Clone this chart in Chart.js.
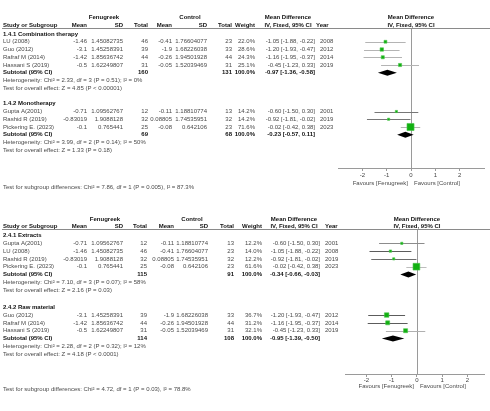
<!DOCTYPE html>
<html lang="en">
<head>
<meta charset="UTF-8">
<title>Forest plot - Fenugreek vs Control</title>
<script src="https://cdn.jsdelivr.net/npm/chart.js@4.4.1/dist/chart.umd.min.js"></script>
<style>
  html, body { margin: 0; padding: 0; background: #fff; }
  #wrap { position: relative; width: 490px; height: 411px; overflow: hidden; background: #fff; }
  #wrap canvas { position: absolute; left: 0; top: 0; }
</style>
</head>
<body>
<div id="wrap">
  <canvas id="forest-a" width="490" height="411"></canvas>
  <canvas id="forest-b" width="490" height="411"></canvas>
</div>
<script>
// ---------- analysis 1.4 (top) ----------
const aGroupName = ['1.4.1 Combination therapy', '1.4.2 Monotherapy'];
const aStudy = ['LU (2008)', 'Guo (2012)', 'Rafraf M (2014)', 'Hassani S (2019)', 'Gupta A(2001)', 'Rashid R (2019)', 'Pickering E. (2023)'];
const aGroupOf = [0, 0, 0, 0, 1, 1, 1];
const aFenMean = [-1.46, -3.1, -1.42, -0.5, -0.71, -0.83019, -0.1];
const aFenSD = [1.45082735, 1.45258391, 1.85636742, 1.62249807, 1.09562767, 1.9088128, 0.765441];
const aFenN = [46, 39, 44, 31, 12, 32, 25];
const aCtlMean = [-0.41, -1.9, -0.26, -0.05, -0.11, 0.08805, -0.08];
const aCtlSD = [1.76604077, 1.68226038, 1.94501928, 1.52039469, 1.18810774, 1.74535951, 0.642106];
const aCtlN = [23, 33, 44, 31, 13, 32, 23];
const aWeight = [22.0, 28.6, 24.3, 25.1, 14.2, 14.2, 71.6];
const aMD = [-1.05, -1.20, -1.16, -0.45, -0.60, -0.92, -0.02];
const aLo = [-1.88, -1.93, -1.95, -1.23, -1.50, -1.81, -0.42];
const aHi = [-0.22, -0.47, -0.37, 0.33, 0.30, -0.02, 0.38];
const aYear = [2008, 2012, 2014, 2019, 2001, 2019, 2023];
const aSubFenN = [160, 69];
const aSubCtlN = [131, 68];
const aSubMD = [-0.97, -0.23];
const aSubLo = [-1.36, -0.57];
const aSubHi = [-0.58, 0.11];
const aHet = ['Chi\u00b2 = 2.33, df = 3 (P = 0.51); I\u00b2 = 0%', 'Chi\u00b2 = 3.99, df = 2 (P = 0.14); I\u00b2 = 50%'];
const aOverall = ['Z = 4.85 (P < 0.00001)', 'Z = 1.33 (P = 0.18)'];
const aSubgroupTest = 'Chi\u00b2 = 7.86, df = 1 (P = 0.005), I\u00b2 = 87.3%';

// ---------- analysis 2.4 (bottom) ----------
const bGroupName = ['2.4.1 Extracts', '2.4.2 Raw material'];
const bStudy = ['Gupta A(2001)', 'LU (2008)', 'Rashid R (2019)', 'Pickering E. (2023)', 'Guo (2012)', 'Rafraf M (2014)', 'Hassani S (2019)'];
const bGroupOf = [0, 0, 0, 0, 1, 1, 1];
const bFenMean = [-0.71, -1.46, -0.83019, -0.1, -3.1, -1.42, -0.5];
const bFenSD = [1.09562767, 1.45082735, 1.9088128, 0.765441, 1.45258391, 1.85636742, 1.62249807];
const bFenN = [12, 46, 32, 25, 39, 44, 31];
const bCtlMean = [-0.11, -0.41, 0.08805, -0.08, -1.9, -0.26, -0.05];
const bCtlSD = [1.18810774, 1.76604077, 1.74535951, 0.642106, 1.68226038, 1.94501928, 1.52039469];
const bCtlN = [13, 23, 32, 23, 33, 44, 31];
const bWeight = [12.2, 14.0, 12.2, 61.6, 36.7, 31.2, 32.1];
const bMD = [-0.60, -1.05, -0.92, -0.02, -1.20, -1.16, -0.45];
const bLo = [-1.50, -1.88, -1.81, -0.42, -1.93, -1.95, -1.23];
const bHi = [0.30, -0.22, -0.02, 0.38, -0.47, -0.37, 0.33];
const bYear = [2001, 2008, 2019, 2023, 2012, 2014, 2019];
const bSubFenN = [115, 114];
const bSubCtlN = [91, 108];
const bSubMD = [-0.34, -0.95];
const bSubLo = [-0.66, -1.39];
const bSubHi = [-0.03, -0.50];
const bHet = ['Chi\u00b2 = 7.10, df = 3 (P = 0.07); I\u00b2 = 58%', 'Chi\u00b2 = 2.28, df = 2 (P = 0.32); I\u00b2 = 12%'];
const bOverall = ['Z = 2.16 (P = 0.03)', 'Z = 4.18 (P < 0.0001)'];
const bSubgroupTest = 'Chi\u00b2 = 4.72, df = 1 (P = 0.03), I\u00b2 = 78.8%';

// shared axis / header text
const xTicks = [-2, -1, 0, 1, 2];
const favourLeft = 'Favours [Fenugreek]';
const favourRight = 'Favours [Control]';

const FONT = '"Liberation Sans", Arial, sans-serif';
const AXIS_H = 20;

// layout per panel (pixels in the 490x411 page)
const layoutA = {
  h1: 17, h2: 25.7, rule: 29, row0: 34, rowH: 7.75, group2Row: 9.0,
  axis: 168, favours: 183, subgroupY: 187.3, tickPad: 1, sq: 1,
  xMin: -3, xMax: 3, plotLeft: 338, plotRight: 484,
  col: { name: 3, fenMean: 87, fenSD: 123, fenN: 148, ctlMean: 172, ctlSD: 207, ctlN: 232, weight: 255, md: 315, year: 320 },
  head: { fen: 104, ctl: 190, md: 288, yearHead: 316 },
  whisker: ['#b4b4b4', '#b4b4b4', '#b4b4b4', '#b4b4b4', '#777', '#777', '#b4b4b4']
};
const layoutB = {
  h1: 219, h2: 226.5, rule: 229.5, row0: 235.5, rowH: 7.8, group2Row: 9.2,
  axis: 374, favours: 386, subgroupY: 389.3, tickPad: 0, sq: 1.09,
  xMin: -2.85, xMax: 2.68, plotLeft: 345, plotRight: 490,
  col: { name: 3, fenMean: 87, fenSD: 123, fenN: 147, ctlMean: 174, ctlSD: 208, ctlN: 234, weight: 262, md: 320, year: 325 },
  head: { fen: 105, ctl: 192, md: 294, yearHead: 325 },
  whisker: ['#8c8c8c', '#5c5c5c', '#6c6c6c', '#bdbdbd', '#5c5c5c', '#5c5c5c', '#b0b0b0']
};

function makePanel(canvasId, d, L) {
  // row index of each study, subtotal, etc.
  const startRow = [0, L.group2Row];
  const cnt = [0, 0];
  const studyRow = d.group.map(g => startRow[g] + 1 + cnt[g]++);
  const subRow = [startRow[0] + 1 + cnt[0], startRow[1] + 1 + cnt[1]];

  const side = w => (1 + w * 0.085) * L.sq;

  const forest = {
    id: 'forest_' + canvasId,
    beforeDatasetsDraw(chart) {
      const ctx = chart.ctx, xs = chart.scales.x, ys = chart.scales.y, ca = chart.chartArea;
      ctx.save();
      // line of no effect
      const x0 = Math.round(xs.getPixelForValue(0)) + 0.5;
      ctx.strokeStyle = '#9a9a9a';
      ctx.lineWidth = 1;
      ctx.beginPath();
      ctx.moveTo(x0, ca.top);
      ctx.lineTo(x0, ca.bottom);
      ctx.stroke();
      // confidence intervals
      d.lo.forEach((lo, i) => {
        const y = Math.round(ys.getPixelForValue(studyRow[i])) + 0.5;
        ctx.strokeStyle = L.whisker[i];
        ctx.beginPath();
        ctx.moveTo(xs.getPixelForValue(lo), y);
        ctx.lineTo(xs.getPixelForValue(d.hi[i]), y);
        ctx.stroke();
      });
      // pooled diamonds
      ctx.fillStyle = '#000';
      d.subMD.forEach((m, g) => {
        const y = ys.getPixelForValue(subRow[g]);
        ctx.beginPath();
        ctx.moveTo(xs.getPixelForValue(d.subLo[g]), y);
        ctx.lineTo(xs.getPixelForValue(m), y - 3);
        ctx.lineTo(xs.getPixelForValue(d.subHi[g]), y);
        ctx.lineTo(xs.getPixelForValue(m), y + 3);
        ctx.closePath();
        ctx.fill();
      });
      ctx.restore();
    },
    afterDraw(chart) {
      const ctx = chart.ctx, xs = chart.scales.x, ys = chart.scales.y;
      const C = L.col, H = L.head;
      ctx.save();
      ctx.textBaseline = 'middle';
      const txt = (s, x, y, align, bold) => {
        ctx.font = (bold ? 'bold ' : '') + '6px ' + FONT;
        ctx.fillStyle = bold ? '#111' : '#4a4a4a';
        ctx.textAlign = align;
        ctx.fillText(s, x, y);
      };
      const x0 = xs.getPixelForValue(0);
      // headers
      txt('Fenugreek', H.fen, L.h1, 'center', true);
      txt('Control', H.ctl, L.h1, 'center', true);
      txt('Mean Difference', H.md, L.h1, 'center', true);
      txt('Mean Difference', x0, L.h1, 'center', true);
      txt('Study or Subgroup', C.name, L.h2, 'left', true);
      txt('Mean', C.fenMean, L.h2, 'right', true);
      txt('SD', C.fenSD, L.h2, 'right', true);
      txt('Total', C.fenN, L.h2, 'right', true);
      txt('Mean', C.ctlMean, L.h2, 'right', true);
      txt('SD', C.ctlSD, L.h2, 'right', true);
      txt('Total', C.ctlN, L.h2, 'right', true);
      txt('Weight', C.weight, L.h2, 'right', true);
      txt('IV, Fixed, 95% CI', H.md, L.h2, 'center', true);
      txt('Year', H.yearHead, L.h2, 'left', true);
      txt('IV, Fixed, 95% CI', x0, L.h2, 'center', true);
      ctx.strokeStyle = '#8a8a8a';
      ctx.lineWidth = 1;
      ctx.beginPath();
      ctx.moveTo(2, Math.round(L.rule) - 0.5);
      ctx.lineTo(490, Math.round(L.rule) - 0.5);
      ctx.stroke();

      const ci = (m, lo, hi) => m.toFixed(2) + ' [' + lo.toFixed(2) + ', ' + hi.toFixed(2) + ']';
      // studies
      d.study.forEach((s, i) => {
        const y = ys.getPixelForValue(studyRow[i]);
        txt(s, C.name, y, 'left', false);
        txt(String(d.fenMean[i]), C.fenMean, y, 'right', false);
        txt(String(d.fenSD[i]), C.fenSD, y, 'right', false);
        txt(String(d.fenN[i]), C.fenN, y, 'right', false);
        txt(String(d.ctlMean[i]), C.ctlMean, y, 'right', false);
        txt(String(d.ctlSD[i]), C.ctlSD, y, 'right', false);
        txt(String(d.ctlN[i]), C.ctlN, y, 'right', false);
        txt(d.weight[i].toFixed(1) + '%', C.weight, y, 'right', false);
        txt(ci(d.md[i], d.lo[i], d.hi[i]), C.md, y, 'right', false);
        txt(String(d.year[i]), C.year, y, 'left', false);
      });
      // groups
      d.groupName.forEach((g, k) => {
        txt(g, C.name, ys.getPixelForValue(startRow[k]), 'left', true);
        const y = ys.getPixelForValue(subRow[k]);
        txt('Subtotal (95% CI)', C.name, y, 'left', true);
        txt(String(d.subFenN[k]), C.fenN, y, 'right', true);
        txt(String(d.subCtlN[k]), C.ctlN, y, 'right', true);
        txt('100.0%', C.weight, y, 'right', true);
        txt(ci(d.subMD[k], d.subLo[k], d.subHi[k]), C.md, y, 'right', true);
        txt('Heterogeneity: ' + d.het[k], C.name, ys.getPixelForValue(subRow[k] + 1), 'left', false);
        txt('Test for overall effect: ' + d.overall[k], C.name, ys.getPixelForValue(subRow[k] + 2), 'left', false);
      });
      txt('Test for subgroup differences: ' + d.subgroupTest, C.name, L.subgroupY, 'left', false);
      // favours labels
      txt(favourLeft, x0 - 3, L.favours, 'right', false);
      txt(favourRight, x0 + 3, L.favours, 'left', false);
      ctx.restore();
    }
  };

  return new Chart(document.getElementById(canvasId), {
    type: 'scatter',
    data: {
      datasets: [{
        data: d.md.map((m, i) => ({ x: m, y: studyRow[i] })),
        pointStyle: 'rect',
        pointRadius: d.weight.map(w => side(w) / Math.SQRT2),
        pointHoverRadius: d.weight.map(w => side(w) / Math.SQRT2),
        backgroundColor: '#11b011',
        borderColor: '#4cc44c',
        borderWidth: 0.6
      }]
    },
    options: {
      responsive: false,
      animation: false,
      events: [],
      layout: { padding: { left: L.plotLeft, right: 490 - L.plotRight, top: L.rule, bottom: 411 - L.axis - AXIS_H } },
      plugins: { legend: { display: false }, tooltip: { enabled: false } },
      scales: {
        x: {
          type: 'linear',
          position: 'bottom',
          min: L.xMin,
          max: L.xMax,
          afterBuildTicks: s => { s.ticks = xTicks.map(v => ({ value: v })); },
          afterFit: s => { s.height = AXIS_H; },
          grid: { drawOnChartArea: false, drawTicks: true, tickLength: 3, color: '#9a9a9a', lineWidth: 1 },
          border: { display: true, color: '#9a9a9a', width: 1 },
          ticks: {
            font: { size: 6, family: FONT },
            color: '#444',
            padding: L.tickPad,
            maxRotation: 0,
            autoSkip: false,
            callback: v => String(v)
          }
        },
        y: {
          type: 'linear',
          reverse: true,
          display: false,
          min: (L.rule - L.row0) / L.rowH,
          max: (L.axis - L.row0) / L.rowH
        }
      }
    },
    plugins: [forest]
  });
}

makePanel('forest-a', {
  groupName: aGroupName, study: aStudy, group: aGroupOf,
  fenMean: aFenMean, fenSD: aFenSD, fenN: aFenN,
  ctlMean: aCtlMean, ctlSD: aCtlSD, ctlN: aCtlN,
  weight: aWeight, md: aMD, lo: aLo, hi: aHi, year: aYear,
  subFenN: aSubFenN, subCtlN: aSubCtlN, subMD: aSubMD, subLo: aSubLo, subHi: aSubHi,
  het: aHet, overall: aOverall, subgroupTest: aSubgroupTest
}, layoutA);

makePanel('forest-b', {
  groupName: bGroupName, study: bStudy, group: bGroupOf,
  fenMean: bFenMean, fenSD: bFenSD, fenN: bFenN,
  ctlMean: bCtlMean, ctlSD: bCtlSD, ctlN: bCtlN,
  weight: bWeight, md: bMD, lo: bLo, hi: bHi, year: bYear,
  subFenN: bSubFenN, subCtlN: bSubCtlN, subMD: bSubMD, subLo: bSubLo, subHi: bSubHi,
  het: bHet, overall: bOverall, subgroupTest: bSubgroupTest
}, layoutB);
</script>
</body>
</html>
